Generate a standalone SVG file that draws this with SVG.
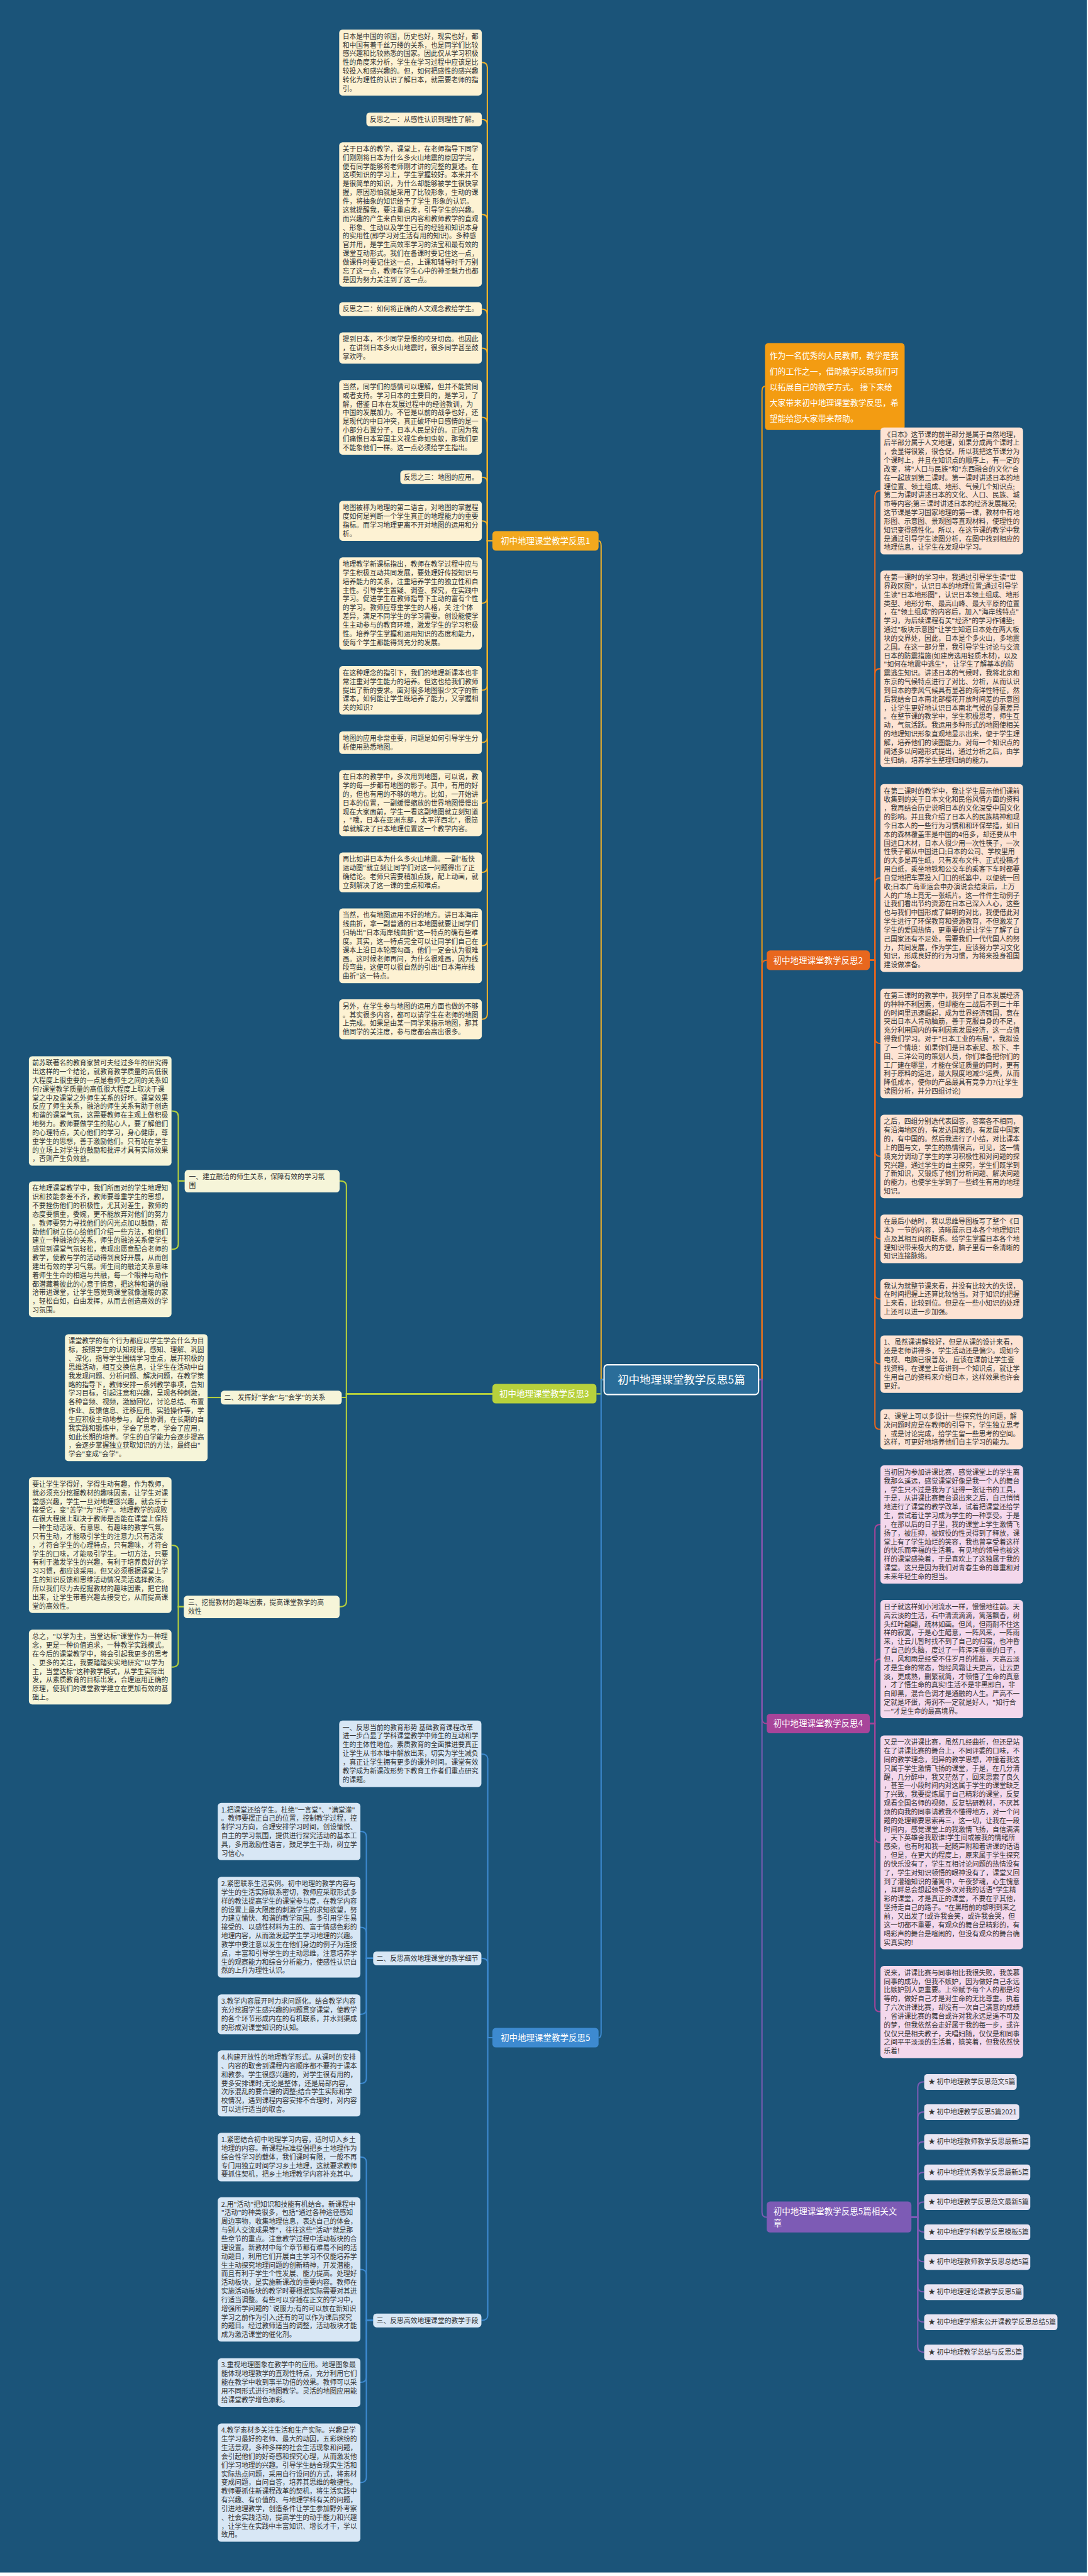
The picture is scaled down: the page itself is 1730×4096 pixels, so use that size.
<svg xmlns="http://www.w3.org/2000/svg" width="1730" height="4096" viewBox="0 0 1730 4096">
<defs>
<style>
.bg{fill:#1b5479}
.tx{font-family:"Noto Sans CJK SC","Noto Sans",sans-serif;font-size:16px;fill:#333}
.nt{font-family:"Noto Sans CJK SC","Noto Sans",sans-serif;font-size:20px;fill:#fff}
.it{font-family:"Noto Sans CJK SC","Noto Sans",sans-serif;font-size:19px;fill:#fff}
.ct{font-family:"Noto Sans CJK SC","Noto Sans",sans-serif;font-size:26px;fill:#fff}
.r1{fill:#fdf2d3}
.r2{fill:#fde3d3}
.r3{fill:#f6f5d9}
.r4{fill:#f4d8ec}
.r5{fill:#d8e7f5}
.r6{fill:#e9e5f2}
.c1,.c2,.c3,.c4,.c5,.c6,.c0{fill:none;stroke-width:3}
.c1{stroke:#f0b22a}.c2{stroke:#e8671e}.c3{stroke:#b7d13c}.c4{stroke:#a8449a}.c5{stroke:#3d8ad0}.c6{stroke:#7d5bb5}.c0{stroke:#f39c12}
</style>
</defs>
<g transform="scale(0.675)">
<rect class="bg" x="0" y="0" width="2560" height="6060"/>

<g id="connectors">
<path class="c1" d="M1423,3250 H1416 V1286 Q1416,1274 1410,1274"/>
<path class="c3" d="M1423,3250 H1416 V3283.5 H1405"/>
<path class="c5" d="M1423,3250 H1416 V4788 Q1416,4800 1410,4800"/>
<path class="c0" d="M1787,3250 H1795 V922 Q1795,910 1802,910"/>
<path class="c2" d="M1787,3250 H1795 V2274 Q1795,2262 1806,2262"/>
<path class="c4" d="M1787,3250 H1795 V4048 Q1795,4060 1806,4060"/>
<path class="c6" d="M1787,3250 H1795 V5211 Q1795,5223 1806,5223"/>
<g class="c1">
<path d="M1160,1274 H1148 V159 Q1148,147 1135,147"/>
<path d="M1160,1274 H1148 V293 Q1148,281 1135,281"/>
<path d="M1160,1274 H1148 V517 Q1148,505 1135,505"/>
<path d="M1160,1274 H1148 V740 Q1148,728 1135,728"/>
<path d="M1160,1274 H1148 V832 Q1148,820 1135,820"/>
<path d="M1160,1274 H1148 V995 Q1148,983 1135,983"/>
<path d="M1160,1274 H1148 V1136 Q1148,1124 1135,1124"/>
<path d="M1160,1274 H1148 V1239 Q1148,1227 1135,1227"/>
<path d="M1160,1274 H1148 V1409 Q1148,1421 1135,1421"/>
<path d="M1160,1274 H1148 V1614 Q1148,1626 1135,1626"/>
<path d="M1160,1274 H1148 V1737 Q1148,1749 1135,1749"/>
<path d="M1160,1274 H1148 V1880 Q1148,1892 1135,1892"/>
<path d="M1160,1274 H1148 V2043 Q1148,2055 1135,2055"/>
<path d="M1160,1274 H1148 V2216 Q1148,2228 1135,2228"/>
<path d="M1160,1274 H1148 V2389 Q1148,2401 1135,2401"/>
</g>
<g class="c2">
<path d="M2049,2262 H2061 V1168 Q2061,1156 2074,1156"/>
<path d="M2049,2262 H2061 V1587 Q2061,1575 2074,1575"/>
<path d="M2049,2262 H2061 V2080 Q2061,2068 2074,2068"/>
<path d="M2049,2262 H2061 V2446 Q2061,2458 2074,2458"/>
<path d="M2049,2262 H2061 V2712 Q2061,2724 2074,2724"/>
<path d="M2049,2262 H2061 V2906 Q2061,2918 2074,2918"/>
<path d="M2049,2262 H2061 V3048 Q2061,3060 2074,3060"/>
<path d="M2049,2262 H2061 V3201 Q2061,3213 2074,3213"/>
<path d="M2049,2262 H2061 V3355 Q2061,3367 2074,3367"/>
</g>
<g class="c4">
<path d="M2049,4060 H2061 V3603 Q2061,3591 2074,3591"/>
<path d="M2049,4060 H2061 V3920 Q2061,3908 2074,3908"/>
<path d="M2049,4060 H2061 V4328 Q2061,4340 2074,4340"/>
<path d="M2049,4060 H2061 V4727 Q2061,4739 2074,4739"/>
</g>
<g class="c6">
<path d="M2147,5223 H2162 V4916 Q2162,4904 2177,4904"/>
<path d="M2147,5223 H2162 V4987 Q2162,4975 2177,4975"/>
<path d="M2147,5223 H2162 V5057 Q2162,5045 2177,5045"/>
<path d="M2147,5223 H2162 V5129 Q2162,5117 2177,5117"/>
<path d="M2147,5223 H2162 V5199 Q2162,5187 2177,5187"/>
<path d="M2147,5223 H2162 V5246 Q2162,5258 2177,5258"/>
<path d="M2147,5223 H2162 V5316 Q2162,5328 2177,5328"/>
<path d="M2147,5223 H2162 V5387 Q2162,5399 2177,5399"/>
<path d="M2147,5223 H2162 V5458 Q2162,5470 2177,5470"/>
<path d="M2147,5223 H2162 V5529 Q2162,5541 2177,5541"/>
</g>
<g class="c3">
<path d="M1160,3283.5 H816 V2794 Q816,2782 800,2782"/>
<path d="M1160,3283.5 H816 V3292 H805"/>
<path d="M1160,3283.5 H816 V3773 Q816,3785 800,3785"/>
<path d="M435,2782 H420 V2629 Q420,2617 404,2617"/>
<path d="M435,2782 H420 V2931 Q420,2943 404,2943"/>
<path d="M520,3292 H489"/>
<path d="M433,3785 H420 V3652 Q420,3640 404,3640"/>
<path d="M433,3785 H420 V3915 Q420,3927 404,3927"/>
</g>
<g class="c5">
<path d="M1160,4800 H1149 V4144 Q1149,4132 1134,4132"/>
<path d="M1160,4800 H1149 V4625 Q1149,4613 1134,4613"/>
<path d="M1160,4800 H1149 V5454 Q1149,5466 1134,5466"/>
<path d="M879,4613 H863 V4326 Q863,4314 849,4314"/>
<path d="M879,4613 H863 V4552 Q863,4540 849,4540"/>
<path d="M879,4613 H863 V4733 Q863,4745 849,4745"/>
<path d="M879,4613 H863 V4896 Q863,4908 849,4908"/>
<path d="M879,5466 H863 V5093 Q863,5081 849,5081"/>
<path d="M879,5466 H863 V5358 Q863,5346 849,5346"/>
<path d="M879,5466 H863 V5600 Q863,5612 849,5612"/>
<path d="M879,5466 H863 V5836 Q863,5848 849,5848"/>
</g>
</g>

<g id="center"><rect x="1423" y="3215" width="364" height="70" rx="8" fill="#2a6d99" stroke="#ffffff" stroke-width="3"/><text class="ct" x="1605" y="3259" text-anchor="middle">初中地理课堂教学反思5篇</text></g>

<g id="intro"><rect x="1802" y="808" width="329" height="205" rx="8" fill="#f39c12"/><text class="it" x="1813" y="845"><tspan x="1813" dy="0">作为一名优秀的人民教师，教学是我</tspan><tspan x="1813" dy="37">们的工作之一，借助教学反思我们可</tspan><tspan x="1813" dy="37">以拓展自己的教学方式。 接下来给</tspan><tspan x="1813" dy="37">大家带来初中地理课堂教学反思，希</tspan><tspan x="1813" dy="37">望能给您大家带来帮助。</tspan></text></g>

<g id="b1"><rect x="1160" y="1251" width="250" height="46" rx="8" fill="#f2a81d"/><text class="nt" x="1285" y="1281" text-anchor="middle">初中地理课堂教学反思1</text></g>
<g id="b2"><rect x="1806" y="2239" width="243" height="46" rx="8" fill="#e8671e"/><text class="nt" x="1927" y="2269" text-anchor="middle">初中地理课堂教学反思2</text></g>
<g id="b3"><rect x="1160" y="3260" width="245" height="46" rx="8" fill="#b7d13c"/><text class="nt" x="1282" y="3290" text-anchor="middle">初中地理课堂教学反思3</text></g>
<g id="b4"><rect x="1806" y="4037" width="243" height="46" rx="8" fill="#a8449a"/><text class="nt" x="1927" y="4067" text-anchor="middle">初中地理课堂教学反思4</text></g>
<g id="b5"><rect x="1160" y="4777" width="250" height="46" rx="8" fill="#3d8ad0"/><text class="nt" x="1285" y="4807" text-anchor="middle">初中地理课堂教学反思5</text></g>
<g id="rel"><rect x="1806" y="5186" width="341" height="73" rx="8" fill="#7d5bb5"/><text class="nt" x="1822" y="5216"><tspan x="1822" dy="0">初中地理课堂教学反思5篇相关文</tspan><tspan x="1822" dy="28">章</tspan></text></g>

<g id="b1-l1"><rect class="r1" x="799" y="69.5" width="336" height="155.5" rx="8"/><text class="tx" x="807" y="91.5"><tspan x="807" dy="0">日本是中国的邻国，历史也好，现实也好，都</tspan><tspan x="807" dy="20.5">和中国有着千丝万缕的关系，也是同学们比较</tspan><tspan x="807" dy="20.5">感兴趣和比较熟悉的国家。因此仅从学习积极</tspan><tspan x="807" dy="20.5">性的角度来分析，学生在学习过程中应该是比</tspan><tspan x="807" dy="20.5">较投入和感兴趣的。但，如何把感性的感兴趣</tspan><tspan x="807" dy="20.5">转化为理性的认识了解日本，就需要老师的指</tspan><tspan x="807" dy="20.5">引。</tspan></text></g>
<g id="b1-l2"><rect class="r1" x="863" y="265" width="272" height="32.5" rx="8"/><text class="tx" x="871" y="287">反思之一：从感性认识到理性了解。</text></g>
<g id="b1-l3"><rect class="r1" x="799" y="335" width="336" height="340" rx="8"/><text class="tx" x="807" y="357"><tspan x="807" dy="0">关于日本的教学，课堂上，在老师指导下同学</tspan><tspan x="807" dy="20.5">们刚刚将日本为什么多火山地震的原因学完，</tspan><tspan x="807" dy="20.5">便有同学能够将老师刚才讲的完整的复述。在</tspan><tspan x="807" dy="20.5">这项知识的学习上，学生掌握较好。本来并不</tspan><tspan x="807" dy="20.5">是很简单的知识，为什么却能够被学生很快掌</tspan><tspan x="807" dy="20.5">握，原因恐怕就是采用了比较形象，生动的课</tspan><tspan x="807" dy="20.5">件，将抽象的知识给予了学生 形象的认识。</tspan><tspan x="807" dy="20.5">这就提醒我，要注重启发，引导学生的兴趣。</tspan><tspan x="807" dy="20.5">而兴趣的产生来自知识内容和教师教学的直观</tspan><tspan x="807" dy="20.5">、形象、生动以及学生已有的经验和知识本身</tspan><tspan x="807" dy="20.5">的实用性(即学习对生活有用的知识)。多种感</tspan><tspan x="807" dy="20.5">官并用，是学生高效率学习的法宝和最有效的</tspan><tspan x="807" dy="20.5">课堂互动形式。我们在备课时要记住这一点，</tspan><tspan x="807" dy="20.5">做课件时要记住这一点，上课和辅导时千万别</tspan><tspan x="807" dy="20.5">忘了这一点，教师在学生心中的神圣魅力也都</tspan><tspan x="807" dy="20.5">是因为努力关注到了这一点。</tspan></text></g>
<g id="b1-l4"><rect class="r1" x="799" y="712" width="336" height="32.5" rx="8"/><text class="tx" x="807" y="734">反思之二：如何将正确的人文观念教给学生。</text></g>
<g id="b1-l5"><rect class="r1" x="799" y="783" width="336" height="73.5" rx="8"/><text class="tx" x="807" y="805"><tspan x="807" dy="0">提到日本，不少同学是恨的咬牙切齿。也因此</tspan><tspan x="807" dy="20.5">，在讲到日本多火山地震时，很多同学甚至鼓</tspan><tspan x="807" dy="20.5">掌欢呼。</tspan></text></g>
<g id="b1-l6"><rect class="r1" x="799" y="895" width="336" height="176" rx="8"/><text class="tx" x="807" y="917"><tspan x="807" dy="0">当然，同学们的感情可以理解，但并不能赞同</tspan><tspan x="807" dy="20.5">或者支持。学习日本的主要目的，是学习，了</tspan><tspan x="807" dy="20.5">解，借鉴 日本在发展过程中的经验教训，为</tspan><tspan x="807" dy="20.5">中国的发展加力。不管是以前的战争也好，还</tspan><tspan x="807" dy="20.5">是现代的中日冲突，真正破坏中日感情的是一</tspan><tspan x="807" dy="20.5">小部分右翼分子，日本人民是好的。正因为我</tspan><tspan x="807" dy="20.5">们痛恨日本军国主义视生命如虫蚁，那我们更</tspan><tspan x="807" dy="20.5">不能象他们一样。这一点必须给学生指出。</tspan></text></g>
<g id="b1-l7"><rect class="r1" x="943" y="1108" width="192" height="32.5" rx="8"/><text class="tx" x="951" y="1130">反思之三：地图的应用。</text></g>
<g id="b1-l8"><rect class="r1" x="799" y="1180" width="336" height="94" rx="8"/><text class="tx" x="807" y="1202"><tspan x="807" dy="0">地图被称为地理的第二语言，对地图的掌握程</tspan><tspan x="807" dy="20.5">度如何是判断一个学生真正的地理能力的重要</tspan><tspan x="807" dy="20.5">指标。而学习地理更离不开对地图的运用和分</tspan><tspan x="807" dy="20.5">析。</tspan></text></g>
<g id="b1-l9"><rect class="r1" x="799" y="1313" width="336" height="217" rx="8"/><text class="tx" x="807" y="1335"><tspan x="807" dy="0">地理教学新课标指出，教师在教学过程中应与</tspan><tspan x="807" dy="20.5">学生积极互动共同发展，要处理好传授知识与</tspan><tspan x="807" dy="20.5">培养能力的关系，注重培养学生的独立性和自</tspan><tspan x="807" dy="20.5">主性。引导学生置疑、调查、探究，在实践中</tspan><tspan x="807" dy="20.5">学习。促进学生在教师指导下主动的富有个性</tspan><tspan x="807" dy="20.5">的学习。教师应尊重学生的人格，关 注个体</tspan><tspan x="807" dy="20.5">差异，满足不同学生的学习需要。创设能使学</tspan><tspan x="807" dy="20.5">生主动参与的教育环境，激发学生的学习积极</tspan><tspan x="807" dy="20.5">性。培养学生掌握和运用知识的态度和能力，</tspan><tspan x="807" dy="20.5">使每个学生都能得到充分的发展。</tspan></text></g>
<g id="b1-l10"><rect class="r1" x="799" y="1569" width="336" height="114.5" rx="8"/><text class="tx" x="807" y="1591"><tspan x="807" dy="0">在这种理念的指引下，我们的地理新课本也非</tspan><tspan x="807" dy="20.5">常注重对学生能力的培养。但这也给我们教师</tspan><tspan x="807" dy="20.5">提出了新的要求。面对很多地图很少文字的新</tspan><tspan x="807" dy="20.5">课本，如何能让学生既培养了能力，又掌握相</tspan><tspan x="807" dy="20.5">关的知识?</tspan></text></g>
<g id="b1-l11"><rect class="r1" x="799" y="1723" width="336" height="53" rx="8"/><text class="tx" x="807" y="1745"><tspan x="807" dy="0">地图的应用非常重要，问题是如何引导学生分</tspan><tspan x="807" dy="20.5">析使用熟悉地图。</tspan></text></g>
<g id="b1-l12"><rect class="r1" x="799" y="1814" width="336" height="155.5" rx="8"/><text class="tx" x="807" y="1836"><tspan x="807" dy="0">在日本的教学中，多次用到地图，可以说，教</tspan><tspan x="807" dy="20.5">学的每一步都有地图的影子。其中，有用的好</tspan><tspan x="807" dy="20.5">的，但也有用的不够的地方。比如，一开始讲</tspan><tspan x="807" dy="20.5">日本的位置，一副缓慢缩放的世界地图慢慢出</tspan><tspan x="807" dy="20.5">现在大家面前，学生一看这副地图就立刻知道</tspan><tspan x="807" dy="20.5">，"哦，日本在亚洲东部，太平洋西北"，很简</tspan><tspan x="807" dy="20.5">单就解决了日本地理位置这一个教学内容。</tspan></text></g>
<g id="b1-l13"><rect class="r1" x="799" y="2008" width="336" height="94" rx="8"/><text class="tx" x="807" y="2030"><tspan x="807" dy="0">再比如讲日本为什么多火山地震。一副"板快</tspan><tspan x="807" dy="20.5">运动图"就立刻让同学们对这一问题得出了正</tspan><tspan x="807" dy="20.5">确结论。老师只需要稍加点拨，配上动画，就</tspan><tspan x="807" dy="20.5">立刻解决了这一课的重点和难点。</tspan></text></g>
<g id="b1-l14"><rect class="r1" x="799" y="2140" width="336" height="176" rx="8"/><text class="tx" x="807" y="2162"><tspan x="807" dy="0">当然，也有地图运用不好的地方。讲日本海岸</tspan><tspan x="807" dy="20.5">线曲折，拿一副普通的日本地图就要让同学们</tspan><tspan x="807" dy="20.5">归纳出"日本海岸线曲折"这一特点的确有些难</tspan><tspan x="807" dy="20.5">度。其实，这一特点完全可以让同学们自己在</tspan><tspan x="807" dy="20.5">课本上沿日本轮廓勾画，他们一定会认为很难</tspan><tspan x="807" dy="20.5">画。这时候老师再问，为什么很难画，因为线</tspan><tspan x="807" dy="20.5">段弯曲，这便可以很自然的引出"日本海岸线</tspan><tspan x="807" dy="20.5">曲折"这一特点。</tspan></text></g>
<g id="b1-l15"><rect class="r1" x="799" y="2354" width="336" height="94" rx="8"/><text class="tx" x="807" y="2376"><tspan x="807" dy="0">另外，在学生参与地图的运用方面也做的不够</tspan><tspan x="807" dy="20.5">。其实很多内容，都可以请学生在老师的地图</tspan><tspan x="807" dy="20.5">上完成。如果是由某一同学来指示地图，那其</tspan><tspan x="807" dy="20.5">他同学的关注度，参与度都会高出很多。</tspan></text></g>

<g id="b2-l1"><rect class="r2" x="2074" y="1007" width="336" height="299" rx="8"/><text class="tx" x="2082" y="1029"><tspan x="2082" dy="0">《日本》这节课的前半部分是属于自然地理，</tspan><tspan x="2082" dy="20.5">后半部分属于人文地理，如果分成两个课时上</tspan><tspan x="2082" dy="20.5">，会显得很紧，很仓促。所以我把这节课分为</tspan><tspan x="2082" dy="20.5">个课时上，并且在知识点的顺序上，有一定的</tspan><tspan x="2082" dy="20.5">改变，将"人口与民族"和"东西融合的文化"合</tspan><tspan x="2082" dy="20.5">在一起放到第二课时。第一课时讲述日本的地</tspan><tspan x="2082" dy="20.5">理位置、领土组成、地形、气候几个知识点;</tspan><tspan x="2082" dy="20.5">第二为课时讲述日本的文化、人口、民族、城</tspan><tspan x="2082" dy="20.5">市等内容;第三课时讲述日本的经济发展概况;</tspan><tspan x="2082" dy="20.5">这节课是学习国家地理的第一课，教材中有地</tspan><tspan x="2082" dy="20.5">形图、示意图、景观图等直观材料，使理性的</tspan><tspan x="2082" dy="20.5">知识变得感性化。所以，在这节课的教学中我</tspan><tspan x="2082" dy="20.5">是通过引导学生读图分析，在图中找到相应的</tspan><tspan x="2082" dy="20.5">地理信息，让学生在发现中学习。</tspan></text></g>
<g id="b2-l2"><rect class="r2" x="2074" y="1344" width="336" height="463" rx="8"/><text class="tx" x="2082" y="1366"><tspan x="2082" dy="0">在第一课时的学习中，我通过引导学生读"世</tspan><tspan x="2082" dy="20.5">界政区图"，认识日本的地理位置;通过引导学</tspan><tspan x="2082" dy="20.5">生读"日本地形图"，认识日本领土组成、地形</tspan><tspan x="2082" dy="20.5">类型、地形分布、最高山峰、最大平原的位置</tspan><tspan x="2082" dy="20.5">，在"领土组成"的内容后，加入"海岸线特点"</tspan><tspan x="2082" dy="20.5">学习，为后续课程有关"经济"的学习作铺垫;</tspan><tspan x="2082" dy="20.5">通过"板块示意图"让学生知道日本处在两大板</tspan><tspan x="2082" dy="20.5">块的交界处，因此，日本是个多火山，多地震</tspan><tspan x="2082" dy="20.5">之国。在这一部分里，我引导学生讨论与交流</tspan><tspan x="2082" dy="20.5">日本的防震措施(如建房选用轻质木材)，以及</tspan><tspan x="2082" dy="20.5">"如何在地震中逃生"， 让学生了解基本的防</tspan><tspan x="2082" dy="20.5">震逃生知识。讲述日本的气候时，我将北京和</tspan><tspan x="2082" dy="20.5">东京的气候特点进行了对比、分析，从而认识</tspan><tspan x="2082" dy="20.5">到日本的季风气候具有显著的海洋性特征，然</tspan><tspan x="2082" dy="20.5">后我结合日本南北部樱花开放时间差的示意图</tspan><tspan x="2082" dy="20.5">，让学生更好地认识日本南北气候的显著差异</tspan><tspan x="2082" dy="20.5">。在整节课的教学中，学生积极思考，师生互</tspan><tspan x="2082" dy="20.5">动，气氛活跃。我运用多种形式的地图使相关</tspan><tspan x="2082" dy="20.5">的地理知识形象直观地显示出来，便于学生理</tspan><tspan x="2082" dy="20.5">解，培养他们的读图能力。对每一个知识点的</tspan><tspan x="2082" dy="20.5">阐述多以问题形式提出，通过分析之后，由学</tspan><tspan x="2082" dy="20.5">生归纳，培养学生整理归纳的能力。</tspan></text></g>
<g id="b2-l3"><rect class="r2" x="2074" y="1847" width="336" height="442.5" rx="8"/><text class="tx" x="2082" y="1869"><tspan x="2082" dy="0">在第二课时的教学中，我让学生展示他们课前</tspan><tspan x="2082" dy="20.5">收集到的关于日本文化和民俗风情方面的资料</tspan><tspan x="2082" dy="20.5">，我再结合历史说明日本的文化深受中国文化</tspan><tspan x="2082" dy="20.5">的影响。并且我介绍了日本人的民族精神和现</tspan><tspan x="2082" dy="20.5">今日本人的一些行为习惯和和环保举措，如日</tspan><tspan x="2082" dy="20.5">本的森林覆盖率是中国的4倍多，却还要从中</tspan><tspan x="2082" dy="20.5">国进口木材，日本人很少用一次性筷子，一次</tspan><tspan x="2082" dy="20.5">性筷子都从中国进口;日本的公司、学校里用</tspan><tspan x="2082" dy="20.5">的大多是再生纸，只有发布文件、正式投稿才</tspan><tspan x="2082" dy="20.5">用白纸，乘坐地铁和公交车的乘客下车时都要</tspan><tspan x="2082" dy="20.5">自觉地把车票投入门口的纸篓中，以便统一回</tspan><tspan x="2082" dy="20.5">收;日本广岛亚运会申办演说会结束后，上万</tspan><tspan x="2082" dy="20.5">人的广场上竟无一张纸片。这一件件生动例子</tspan><tspan x="2082" dy="20.5">让我们看出节约资源在日本已深入人心，这些</tspan><tspan x="2082" dy="20.5">也与我们中国形成了鲜明的对比，我便借此对</tspan><tspan x="2082" dy="20.5">学生进行了环保教育和资源教育，不但激发了</tspan><tspan x="2082" dy="20.5">学生的爱国热情，更重要的是让学生了解了自</tspan><tspan x="2082" dy="20.5">己国家还有不足处，需要我们一代代国人的努</tspan><tspan x="2082" dy="20.5">力，共同发展，作为学生，应该努力学习文化</tspan><tspan x="2082" dy="20.5">知识，形成良好的行为习惯，为将来投身祖国</tspan><tspan x="2082" dy="20.5">建设做准备。</tspan></text></g>
<g id="b2-l4"><rect class="r2" x="2074" y="2329" width="336" height="258" rx="8"/><text class="tx" x="2082" y="2351"><tspan x="2082" dy="0">在第三课时的教学中，我列举了日本发展经济</tspan><tspan x="2082" dy="20.5">的种种不利因素，但却能在二战后不到二十年</tspan><tspan x="2082" dy="20.5">的时间里迅速崛起，成为世界经济强国，意在</tspan><tspan x="2082" dy="20.5">突出日本人肯动脑筋，善于克服自身的不足，</tspan><tspan x="2082" dy="20.5">充分利用国内的有利因素发展经济，这一点值</tspan><tspan x="2082" dy="20.5">得我们学习。对于"日本工业的布局"，我拟设</tspan><tspan x="2082" dy="20.5">了一个情境：如果你们是日本索尼、松下、丰</tspan><tspan x="2082" dy="20.5">田、三洋公司的策划人员，你们准备把你们的</tspan><tspan x="2082" dy="20.5">工厂建在哪里，才能在保证质量的同时，更有</tspan><tspan x="2082" dy="20.5">利于原料的运进，最大限度地减少运费，从而</tspan><tspan x="2082" dy="20.5">降低成本，使你的产品最具有竞争力?(让学生</tspan><tspan x="2082" dy="20.5">读图分析，并分四组讨论)</tspan></text></g>
<g id="b2-l5"><rect class="r2" x="2074" y="2626" width="336" height="196.5" rx="8"/><text class="tx" x="2082" y="2648"><tspan x="2082" dy="0">之后，四组分别选代表回答，答案各不相同，</tspan><tspan x="2082" dy="20.5">有沿海地区的，有发达国家的，有发展中国家</tspan><tspan x="2082" dy="20.5">的，有中国的。然后我进行了小结，对比课本</tspan><tspan x="2082" dy="20.5">上的图与文，学生的热情很高，可见，这一情</tspan><tspan x="2082" dy="20.5">境充分调动了学生的学习积极性和对问题的探</tspan><tspan x="2082" dy="20.5">究兴趣，通过学生的自主探究，学生们既学到</tspan><tspan x="2082" dy="20.5">了新知识，又锻炼了他们分析问题、解决问题</tspan><tspan x="2082" dy="20.5">的能力，也使学生学到了一些终生有用的地理</tspan><tspan x="2082" dy="20.5">知识。</tspan></text></g>
<g id="b2-l6"><rect class="r2" x="2074" y="2861" width="336" height="114.5" rx="8"/><text class="tx" x="2082" y="2883"><tspan x="2082" dy="0">在最后小结时，我以思维导图板写了整个《日</tspan><tspan x="2082" dy="20.5">本》一节的内容，清晰展示日本各个地理知识</tspan><tspan x="2082" dy="20.5">点及其相互间的联系。给学生掌握日本各个地</tspan><tspan x="2082" dy="20.5">理知识带来极大的方便，脑子里有一条清晰的</tspan><tspan x="2082" dy="20.5">知识连接脉络。</tspan></text></g>
<g id="b2-l7"><rect class="r2" x="2074" y="3013" width="336" height="94" rx="8"/><text class="tx" x="2082" y="3035"><tspan x="2082" dy="0">我认为就整节课来看，并没有比较大的失误，</tspan><tspan x="2082" dy="20.5">在时间把握上还算比较恰当。对于知识的把握</tspan><tspan x="2082" dy="20.5">上来看，比较到位。但是在一些小知识的处理</tspan><tspan x="2082" dy="20.5">上还可以进一步加强。</tspan></text></g>
<g id="b2-l8"><rect class="r2" x="2074" y="3146" width="336" height="135" rx="8"/><text class="tx" x="2082" y="3168"><tspan x="2082" dy="0">1、虽然课讲解较好，但是从课的设计来看，</tspan><tspan x="2082" dy="20.5">还是老师讲得多，学生活动还是偏少。现如今</tspan><tspan x="2082" dy="20.5">电视、电脑已很普及， 应该在课前让学生查</tspan><tspan x="2082" dy="20.5">找资料，在课堂上每讲到一个知识点，就让学</tspan><tspan x="2082" dy="20.5">生用自己的资料来介绍日本，这样效果也许会</tspan><tspan x="2082" dy="20.5">更好。</tspan></text></g>
<g id="b2-l9"><rect class="r2" x="2074" y="3320" width="336" height="94" rx="8"/><text class="tx" x="2082" y="3342"><tspan x="2082" dy="0">2、课堂上可以多设计一些探究性的问题，解</tspan><tspan x="2082" dy="20.5">决问题时应是在教师的引导下，学生独立思考</tspan><tspan x="2082" dy="20.5">，或是讨论完成，给学生留一些思考的空间。</tspan><tspan x="2082" dy="20.5">这样，可更好地培养他们自主学习的能力。</tspan></text></g>

<g id="b4-l1"><rect class="r4" x="2074" y="3452" width="336" height="278.5" rx="8"/><text class="tx" x="2082" y="3474"><tspan x="2082" dy="0">当初因为参加讲课比赛，感觉课堂上的学生离</tspan><tspan x="2082" dy="20.5">我那么遥远，感觉课堂好像是我一个人的舞台</tspan><tspan x="2082" dy="20.5">，学生只不过是我为了证得一张证书的工具，</tspan><tspan x="2082" dy="20.5">于是，从讲课比赛舞台退出来之后，自己悄悄</tspan><tspan x="2082" dy="20.5">地进行了课堂的教学改革，试着把课堂还给学</tspan><tspan x="2082" dy="20.5">生，尝试着让学习成为学生的一种享受。于是</tspan><tspan x="2082" dy="20.5">，在那以后的日子里，我的课堂上学生激情飞</tspan><tspan x="2082" dy="20.5">扬了，被压抑，被奴役的性灵得到了释放，课</tspan><tspan x="2082" dy="20.5">堂上有了学生灿烂的笑容，我也曾享受着这样</tspan><tspan x="2082" dy="20.5">的快乐而幸福的生活着。有见地的领导也被这</tspan><tspan x="2082" dy="20.5">样的课堂感染着，于是喜欢上了这独属于我的</tspan><tspan x="2082" dy="20.5">课堂。这只是因为我们对青春生命的尊重和对</tspan><tspan x="2082" dy="20.5">未来年轻生命的担当。</tspan></text></g>
<g id="b4-l2"><rect class="r4" x="2074" y="3769" width="336" height="278.5" rx="8"/><text class="tx" x="2082" y="3791"><tspan x="2082" dy="0">日子就这样如小河流水一样，慢慢地往前。天</tspan><tspan x="2082" dy="20.5">高云淡的生活，石中清流滴滴，篱落飘香，树</tspan><tspan x="2082" dy="20.5">头红叶翩翩，疏林如画。但风，但雨耐不住这</tspan><tspan x="2082" dy="20.5">样的寂寞，于是心生醋意，一阵风来，一阵雨</tspan><tspan x="2082" dy="20.5">来，让云儿暂时找不到了自己的归宿，也冲昏</tspan><tspan x="2082" dy="20.5">了自己的头脑，度过了一阵浑浑噩噩的日子，</tspan><tspan x="2082" dy="20.5">但，风和雨是经受不住岁月的推敲，天高云淡</tspan><tspan x="2082" dy="20.5">才是生命的常态，饱经风霜让天更高，让云更</tspan><tspan x="2082" dy="20.5">淡，更成熟，删繁就简，才顿悟了生命的真意</tspan><tspan x="2082" dy="20.5">，才了悟生命的真实!生活不是非黑即白，非</tspan><tspan x="2082" dy="20.5">白即黑，混合色调才是通融的人生。严高不一</tspan><tspan x="2082" dy="20.5">定就是坏蛋，海润不一定就是好人，"知行合</tspan><tspan x="2082" dy="20.5">一"才是生命的最高境界。</tspan></text></g>
<g id="b4-l3"><rect class="r4" x="2074" y="4088" width="336" height="504" rx="8"/><text class="tx" x="2082" y="4110"><tspan x="2082" dy="0">又是一次讲课比赛，虽然几经曲折，但还是站</tspan><tspan x="2082" dy="20.5">在了讲课比赛的舞台上，不同评委的口味，不</tspan><tspan x="2082" dy="20.5">同的教学理念，迥异的教学思想，冲撞着我这</tspan><tspan x="2082" dy="20.5">只属于学生激情飞扬的课堂，于是，在几分清</tspan><tspan x="2082" dy="20.5">醒，几分醉中，我又茫然了，回来思索了良久</tspan><tspan x="2082" dy="20.5">，甚至一小段时间内对这属于学生的课堂缺乏</tspan><tspan x="2082" dy="20.5">了兴致，我要提炼属于自己精彩的课堂，反复</tspan><tspan x="2082" dy="20.5">观看全国名师的视频，反复钻研教材，不厌其</tspan><tspan x="2082" dy="20.5">烦的向我的同事请教我不懂得地方，对一个问</tspan><tspan x="2082" dy="20.5">题的处理都要思索再三，这一切，让我在一段</tspan><tspan x="2082" dy="20.5">时间内，感觉课堂上的我激情飞扬，自信满满</tspan><tspan x="2082" dy="20.5">，天下英雄舍我取谁!学生间或被我的情绪所</tspan><tspan x="2082" dy="20.5">感染，也有时和我一起随声附和着讲课的话语</tspan><tspan x="2082" dy="20.5">，但是，在更大的程度上，原来属于学生探究</tspan><tspan x="2082" dy="20.5">的快乐没有了，学生互相讨论问题的热情没有</tspan><tspan x="2082" dy="20.5">了，学生对知识顿悟的眼神没有了，课堂又回</tspan><tspan x="2082" dy="20.5">到了灌输知识的藩篱中，午夜梦魂，心生愧意</tspan><tspan x="2082" dy="20.5">，耳畔总会想起领导多次对我的话语"学生精</tspan><tspan x="2082" dy="20.5">彩的课堂，才是真正的课堂，不要在乎其他，</tspan><tspan x="2082" dy="20.5">坚持走自己的路子。"在黑暗前的黎明到来之</tspan><tspan x="2082" dy="20.5">前，又出发了!或许我会笑，或许我会哭，但</tspan><tspan x="2082" dy="20.5">这一切都不重要，有观众的舞台是精彩的，有</tspan><tspan x="2082" dy="20.5">喝彩声的舞台是喧闹的，但没有观众的舞台确</tspan><tspan x="2082" dy="20.5">实真实的!</tspan></text></g>
<g id="b4-l4"><rect class="r4" x="2074" y="4631" width="336" height="217" rx="8"/><text class="tx" x="2082" y="4653"><tspan x="2082" dy="0">说来，讲课比赛与同事相比我很失败，我羡慕</tspan><tspan x="2082" dy="20.5">同事的成功，但我不嫉妒，因为做好自己永远</tspan><tspan x="2082" dy="20.5">比嫉妒别人更重要。上帝赋予每个人的都是均</tspan><tspan x="2082" dy="20.5">等的，做好自己才是对生命的无比尊重。执着</tspan><tspan x="2082" dy="20.5">了六次讲课比赛，却没有一次自己满意的成绩</tspan><tspan x="2082" dy="20.5">，省讲课比赛的舞台或许对我永远是遥不可及</tspan><tspan x="2082" dy="20.5">的梦，但我依然会走好属于我的每一步，或许</tspan><tspan x="2082" dy="20.5">仅仅只是相夫教子，夫唱妇随，仅仅是和同事</tspan><tspan x="2082" dy="20.5">之间平平淡淡的生活着，嬉笑着，但我依然快</tspan><tspan x="2082" dy="20.5">乐着!</tspan></text></g>

<g id="rel-1"><rect class="r6" x="2177" y="4886" width="218" height="37" rx="7"/><text class="tx" x="2187" y="4910">★ 初中地理教学反思范文5篇</text></g>
<g id="rel-2"><rect class="r6" x="2177" y="4957" width="224" height="37" rx="7"/><text class="tx" x="2187" y="4981">★ 初中地理教学反思5篇2021</text></g>
<g id="rel-3"><rect class="r6" x="2177" y="5027" width="250" height="37" rx="7"/><text class="tx" x="2187" y="5051">★ 初中地理教师教学反思最新5篇</text></g>
<g id="rel-4"><rect class="r6" x="2177" y="5099" width="250" height="37" rx="7"/><text class="tx" x="2187" y="5123">★ 初中地理优秀教学反思最新5篇</text></g>
<g id="rel-5"><rect class="r6" x="2177" y="5169" width="250" height="37" rx="7"/><text class="tx" x="2187" y="5193">★ 初中地理教学反思范文最新5篇</text></g>
<g id="rel-6"><rect class="r6" x="2177" y="5240" width="250" height="37" rx="7"/><text class="tx" x="2187" y="5264">★ 初中地理学科教学反思模板5篇</text></g>
<g id="rel-7"><rect class="r6" x="2177" y="5310" width="250" height="37" rx="7"/><text class="tx" x="2187" y="5334">★ 初中地理教师教学反思总结5篇</text></g>
<g id="rel-8"><rect class="r6" x="2177" y="5381" width="234" height="37" rx="7"/><text class="tx" x="2187" y="5405">★ 初中地理理论课教学反思5篇</text></g>
<g id="rel-9"><rect class="r6" x="2177" y="5452" width="314" height="37" rx="7"/><text class="tx" x="2187" y="5476">★ 初中地理学期末公开课教学反思总结5篇</text></g>
<g id="rel-10"><rect class="r6" x="2177" y="5523" width="234" height="37" rx="7"/><text class="tx" x="2187" y="5547">★ 初中地理教学总结与反思5篇</text></g>

<g id="b3-s1"><rect class="r3" x="435" y="2756" width="365" height="53" rx="8"/><text class="tx" x="445" y="2778"><tspan x="445" dy="0">一、建立融洽的师生关系，保障有效的学习氛</tspan><tspan x="445" dy="20.5">围</tspan></text></g>
<g id="b3-s2"><rect class="r3" x="520" y="3276" width="285" height="32.5" rx="8"/><text class="tx" x="528" y="3298">二、发挥好"学会"与"会学"的关系</text></g>
<g id="b3-s3"><rect class="r3" x="433" y="3759" width="367" height="53" rx="8"/><text class="tx" x="443" y="3781"><tspan x="443" dy="0">三、挖掘教材的趣味因素，提高课堂教学的高</tspan><tspan x="443" dy="20.5">效性</tspan></text></g>
<g id="b3-l1"><rect class="r3" x="68" y="2488" width="336" height="258" rx="8"/><text class="tx" x="76" y="2510"><tspan x="76" dy="0">前苏联著名的教育家赞可夫经过多年的研究得</tspan><tspan x="76" dy="20.5">出这样的一个结论，就教育教学质量的高低很</tspan><tspan x="76" dy="20.5">大程度上很重要的一点是看师生之间的关系如</tspan><tspan x="76" dy="20.5">何?课堂教学质量的高低很大程度上取决于课</tspan><tspan x="76" dy="20.5">堂之中及课堂之外师生关系的好坏。课堂效果</tspan><tspan x="76" dy="20.5">反应了师生关系，融洽的师生关系有助于创造</tspan><tspan x="76" dy="20.5">和谐的课堂气氛，这需要教师在主观上做积极</tspan><tspan x="76" dy="20.5">地努力。教师要做学生的贴心人，要了解他们</tspan><tspan x="76" dy="20.5">的心理特点，关心他们的学习，身心健康，尊</tspan><tspan x="76" dy="20.5">重学生的思想，善于激励他们。只有站在学生</tspan><tspan x="76" dy="20.5">的立场上对学生的鼓励和批评才具有实际效果</tspan><tspan x="76" dy="20.5">，否则产生负效益。</tspan></text></g>
<g id="b3-l2"><rect class="r3" x="68" y="2783" width="336" height="319.5" rx="8"/><text class="tx" x="76" y="2805"><tspan x="76" dy="0">在地理课堂教学中，我们所面对的学生地理知</tspan><tspan x="76" dy="20.5">识和技能参差不齐，教师要尊重学生的思想，</tspan><tspan x="76" dy="20.5">不要挫伤他们的积极性，尤其对差生，教师的</tspan><tspan x="76" dy="20.5">态度要慎重，委婉，更不能放弃对他们的努力</tspan><tspan x="76" dy="20.5">。教师要努力寻找他们的闪光点加以鼓励，帮</tspan><tspan x="76" dy="20.5">助他们树立信心给他们介绍一些方法，和他们</tspan><tspan x="76" dy="20.5">建立一种融洽的关系，师生的融洽关系使学生</tspan><tspan x="76" dy="20.5">感觉到课堂气氛轻松，表现出愿意配合老师的</tspan><tspan x="76" dy="20.5">教学，使教与学的活动得到良好开展，从而创</tspan><tspan x="76" dy="20.5">建出有效的学习气氛。师生间的融洽关系意味</tspan><tspan x="76" dy="20.5">着师生生命的相遇与共融，每一个眼神与动作</tspan><tspan x="76" dy="20.5">都潜藏着彼此的心意于情意，把这种和谐的融</tspan><tspan x="76" dy="20.5">洽带进课堂，让学生感觉到课堂就像温暖的家</tspan><tspan x="76" dy="20.5">，轻松自如，自由发挥，从而去创造高效的学</tspan><tspan x="76" dy="20.5">习氛围。</tspan></text></g>
<g id="b3-l3"><rect class="r3" x="153" y="3143" width="336" height="299" rx="8"/><text class="tx" x="161" y="3165"><tspan x="161" dy="0">课堂教学的每个行为都应以学生学会什么为目</tspan><tspan x="161" dy="20.5">标，按照学生的认知规律，感知、理解、巩固</tspan><tspan x="161" dy="20.5">、深化，指导学生围绕学习重点，展开积极的</tspan><tspan x="161" dy="20.5">思维活动，相互交换信息，让学生在活动中自</tspan><tspan x="161" dy="20.5">我发现问题、分析问题、解决问题，在教学策</tspan><tspan x="161" dy="20.5">略的指导下，教师安排一系列教学事项，告知</tspan><tspan x="161" dy="20.5">学习目标，引起注意和兴趣，呈现各种刺激，</tspan><tspan x="161" dy="20.5">各种音频、视频，激励回忆，讨论总结、布置</tspan><tspan x="161" dy="20.5">作业、反馈信息、迁移应用、实验操作等，学</tspan><tspan x="161" dy="20.5">生应积极主动地参与，配合协调，在长期的自</tspan><tspan x="161" dy="20.5">我实践和锻炼中，学会了思考，学会了应用，</tspan><tspan x="161" dy="20.5">如此长期的培养。学生的自学能力会逐步提高</tspan><tspan x="161" dy="20.5">，会逐步掌握独立获取知识的方法，最终由"</tspan><tspan x="161" dy="20.5">学会"变成"会学"。</tspan></text></g>
<g id="b3-l4"><rect class="r3" x="68" y="3480" width="336" height="319.5" rx="8"/><text class="tx" x="76" y="3502"><tspan x="76" dy="0">要让学生学得好，学得生动有趣，作为教师，</tspan><tspan x="76" dy="20.5">就必须充分挖掘教材的趣味因素，让学生对课</tspan><tspan x="76" dy="20.5">堂感兴趣，学生一旦对地理感兴趣，就会乐于</tspan><tspan x="76" dy="20.5">接受它，变"苦学"为"乐学"。地理教学的成败</tspan><tspan x="76" dy="20.5">在很大程度上取决于教师是否能在课堂上保持</tspan><tspan x="76" dy="20.5">一种生动活泼、有意思、有趣味的教学气氛。</tspan><tspan x="76" dy="20.5">只有生动，才能吸引学生的注意力;只有活泼</tspan><tspan x="76" dy="20.5">，才符合学生的心理特点，只有趣味，才符合</tspan><tspan x="76" dy="20.5">学生的口味，才能吸引学生。一切方法，只要</tspan><tspan x="76" dy="20.5">有利于激发学生的兴趣，有利于培养良好的学</tspan><tspan x="76" dy="20.5">习习惯，都应该采用。但又必须根据课堂上学</tspan><tspan x="76" dy="20.5">生的知识反馈和思维活动情况灵活选择教法。</tspan><tspan x="76" dy="20.5">所以我们尽力去挖掘教材的趣味因素，把它抛</tspan><tspan x="76" dy="20.5">出来，让学生带着兴趣去接受它，从而提高课</tspan><tspan x="76" dy="20.5">堂的高效性。</tspan></text></g>
<g id="b3-l5"><rect class="r3" x="68" y="3839" width="336" height="176" rx="8"/><text class="tx" x="76" y="3861"><tspan x="76" dy="0">总之，"以学为主，当堂达标"课堂作为一种理</tspan><tspan x="76" dy="20.5">念，更是一种价值追求，一种教学实践模式。</tspan><tspan x="76" dy="20.5">在今后的课堂教学中，将会引起我更多的思考</tspan><tspan x="76" dy="20.5">、更多的关注，我要踏踏实实地研究"以学为</tspan><tspan x="76" dy="20.5">主，当堂达标"这种教学模式，从学生实际出</tspan><tspan x="76" dy="20.5">发，从素质教育的目标出发，合理运用正确的</tspan><tspan x="76" dy="20.5">原理，使我们的课堂教学建立在更加有效的基</tspan><tspan x="76" dy="20.5">础上。</tspan></text></g>

<g id="b5-s1"><rect class="r5" x="799" y="4053" width="335" height="156.5" rx="8"/><text class="tx" x="807" y="4075"><tspan x="807" dy="0">一、反思当前的教育形势 基础教育课程改革</tspan><tspan x="807" dy="20.5">进一步凸显了学科课堂教学中师生的互动和学</tspan><tspan x="807" dy="20.5">生的主体性地位。素质教育的全面推进要真正</tspan><tspan x="807" dy="20.5">让学生从书本堆中解放出来，切实为学生减负</tspan><tspan x="807" dy="20.5">，真正让学生拥有更多的课外时间。课堂有效</tspan><tspan x="807" dy="20.5">教学成为新课改形势下教育工作者们重点研究</tspan><tspan x="807" dy="20.5">的课题。</tspan></text></g>
<g id="b5-s2"><rect class="r5" x="879" y="4597" width="255" height="32.5" rx="8"/><text class="tx" x="887" y="4619">二、反思高效地理课堂的教学细节</text></g>
<g id="b5-s3"><rect class="r5" x="879" y="5450" width="255" height="32.5" rx="8"/><text class="tx" x="887" y="5472">三、反思高效地理课堂的教学手段</text></g>
<g id="b5-l1"><rect class="r5" x="513" y="4247" width="336" height="135" rx="8"/><text class="tx" x="521" y="4269"><tspan x="521" dy="0">1.把课堂还给学生。杜绝"一言堂"、"满堂灌"</tspan><tspan x="521" dy="20.5">。教师要摆正自己的位置，控制教学过程，控</tspan><tspan x="521" dy="20.5">制学习方向，合理安排学习时间，创设愉悦、</tspan><tspan x="521" dy="20.5">自主的学习氛围，提供进行探究活动的基本工</tspan><tspan x="521" dy="20.5">具，多用激励性语言，鼓足学生干劲，树立学</tspan><tspan x="521" dy="20.5">习信心。</tspan></text></g>
<g id="b5-l2"><rect class="r5" x="513" y="4421" width="336" height="237.5" rx="8"/><text class="tx" x="521" y="4443"><tspan x="521" dy="0">2.紧密联系生活实例。初中地理的教学内容与</tspan><tspan x="521" dy="20.5">学生的生活实际联系密切，教师应采取形式多</tspan><tspan x="521" dy="20.5">样的教法提高学生的课堂参与度，在教学内容</tspan><tspan x="521" dy="20.5">的设置上最大限度的刺激学生的求知欲望，努</tspan><tspan x="521" dy="20.5">力建立愉快、和谐的教学氛围。多引用学生易</tspan><tspan x="521" dy="20.5">接受的、以感性材料为主的、富于情感色彩的</tspan><tspan x="521" dy="20.5">地理内容，从而激发起学生学习地理的兴趣。</tspan><tspan x="521" dy="20.5">教学中要注意以发生在他们身边的例子为连接</tspan><tspan x="521" dy="20.5">点，丰富和引导学生的主动思维，注意培养学</tspan><tspan x="521" dy="20.5">生的观察能力和综合分析能力，使感性认识自</tspan><tspan x="521" dy="20.5">然的上升为理性认识。</tspan></text></g>
<g id="b5-l3"><rect class="r5" x="513" y="4698" width="336" height="94" rx="8"/><text class="tx" x="521" y="4720"><tspan x="521" dy="0">3.教学内容展开时力求问题化。结合教学内容</tspan><tspan x="521" dy="20.5">充分挖掘学生感兴趣的问题贯穿课堂，使教学</tspan><tspan x="521" dy="20.5">的各个环节形成内在的有机联系，并水到渠成</tspan><tspan x="521" dy="20.5">的形成对课堂知识的认知。</tspan></text></g>
<g id="b5-l4"><rect class="r5" x="513" y="4830" width="336" height="155.5" rx="8"/><text class="tx" x="521" y="4852"><tspan x="521" dy="0">4.构建开放性的地理教学形式。从课时的安排</tspan><tspan x="521" dy="20.5">、内容的取舍到课程内容顺序都不要拘于课本</tspan><tspan x="521" dy="20.5">和教参。学生很感兴趣的，对学生很有用的，</tspan><tspan x="521" dy="20.5">要多安排课时;无论是整体，还是局部内容，</tspan><tspan x="521" dy="20.5">次序混乱的要合理的调整;结合学生实际和学</tspan><tspan x="521" dy="20.5">校情况，遇到课程内容安排不合理时，对内容</tspan><tspan x="521" dy="20.5">可以进行适当的取舍。</tspan></text></g>
<g id="b5-l5"><rect class="r5" x="513" y="5024" width="336" height="114.5" rx="8"/><text class="tx" x="521" y="5046"><tspan x="521" dy="0">1.紧密结合初中地理学习内容，适时切入乡土</tspan><tspan x="521" dy="20.5">地理的内容。新课程标准提倡把乡土地理作为</tspan><tspan x="521" dy="20.5">综合性学习的载体，我们课时有限，一般不再</tspan><tspan x="521" dy="20.5">专门用独立时间学习乡土地理，这就要求教师</tspan><tspan x="521" dy="20.5">要抓住契机，把乡土地理教学内容补充其中。</tspan></text></g>
<g id="b5-l6"><rect class="r5" x="513" y="5176" width="336" height="340" rx="8"/><text class="tx" x="521" y="5198"><tspan x="521" dy="0">2.用"活动"把知识和技能有机结合。新课程中</tspan><tspan x="521" dy="20.5">"活动"的种类很多，包括"通过各种途径感知</tspan><tspan x="521" dy="20.5">周边事物，收集地理信息，表达自己的体会，</tspan><tspan x="521" dy="20.5">与别人交流成果等"，往往这些"活动"就是那</tspan><tspan x="521" dy="20.5">些章节的重点。注意教学过程中活动板块的合</tspan><tspan x="521" dy="20.5">理设置。新教材中每个章节都有难易不同的活</tspan><tspan x="521" dy="20.5">动题目，利用它们开展自主学习不仅能培养学</tspan><tspan x="521" dy="20.5">生主动探究地理问题的创新精神，开发潜能，</tspan><tspan x="521" dy="20.5">而且有利于学生个性发展、能力提高。处理好</tspan><tspan x="521" dy="20.5">活动板块，是实施新课改的重要内容。教师在</tspan><tspan x="521" dy="20.5">实施活动板块的教学时要根据实际需要对其进</tspan><tspan x="521" dy="20.5">行适当调整。有些可以穿插在正文的学习中，</tspan><tspan x="521" dy="20.5">增强所学问题的`说服力;有的可以放在新知识</tspan><tspan x="521" dy="20.5">学习之前作为引入;还有的可以作为课后探究</tspan><tspan x="521" dy="20.5">的题目。经过教师适当的调整，活动板块才能</tspan><tspan x="521" dy="20.5">成为激活课堂的催化剂。</tspan></text></g>
<g id="b5-l7"><rect class="r5" x="513" y="5555" width="336" height="114.5" rx="8"/><text class="tx" x="521" y="5577"><tspan x="521" dy="0">3.重视地理图象在教学中的应用。地理图象最</tspan><tspan x="521" dy="20.5">能体现地理教学的直观性特点，充分利用它们</tspan><tspan x="521" dy="20.5">能在教学中收到事半功倍的效果。教师可以采</tspan><tspan x="521" dy="20.5">用不同形式进行地图教学。灵活的地图应用能</tspan><tspan x="521" dy="20.5">给课堂教学增色添彩。</tspan></text></g>
<g id="b5-l8"><rect class="r5" x="513" y="5709" width="336" height="278.5" rx="8"/><text class="tx" x="521" y="5731"><tspan x="521" dy="0">4.教学素材多关注生活和生产实际。兴趣是学</tspan><tspan x="521" dy="20.5">生学习最好的老师、最大的动因，五彩缤纷的</tspan><tspan x="521" dy="20.5">生活景观，多种多样的社会生活现象和问题，</tspan><tspan x="521" dy="20.5">会引起他们的好奇感和探究心理，从而激发他</tspan><tspan x="521" dy="20.5">们学习地理的兴趣。引导学生结合现实生活和</tspan><tspan x="521" dy="20.5">实际热点问题，采用自行设问的方式，将素材</tspan><tspan x="521" dy="20.5">变成问题，自问自答，培养其思维的敏捷性。</tspan><tspan x="521" dy="20.5">教师要抓住新课程改革的契机，将生活实践中</tspan><tspan x="521" dy="20.5">有兴趣、有价值的、与地理学科有关的问题，</tspan><tspan x="521" dy="20.5">引进地理教学，创造条件让学生参加野外考察</tspan><tspan x="521" dy="20.5">、社会实践活动，提高学生的动手能力和兴趣</tspan><tspan x="521" dy="20.5">，让学生在实践中丰富知识、增长才干，学以</tspan><tspan x="521" dy="20.5">致用。</tspan></text></g>
</g>
</svg>
